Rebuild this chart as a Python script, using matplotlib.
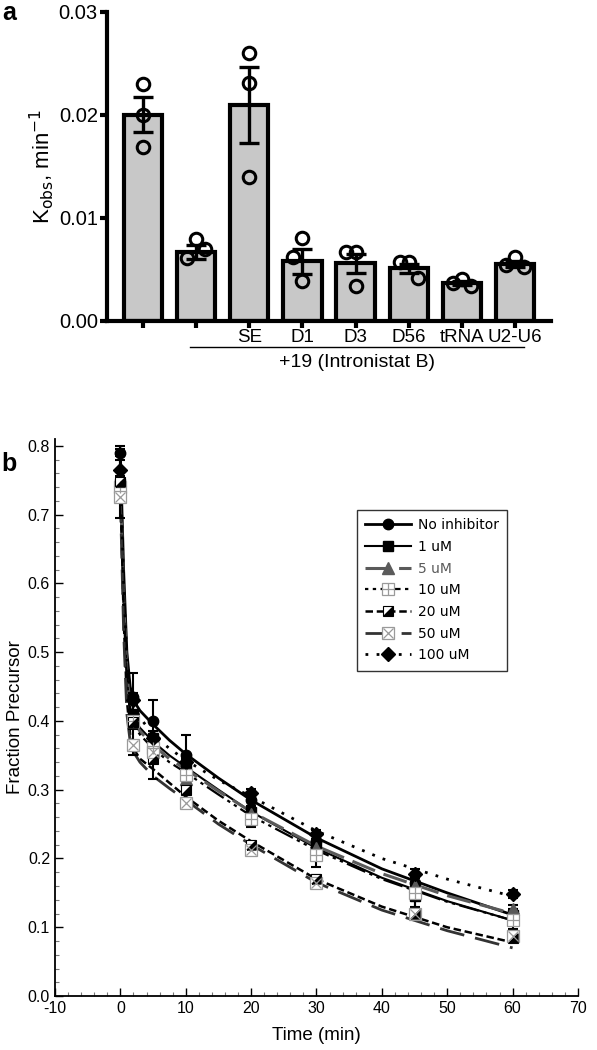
"""
Kobs bar chart (a) and precursor decay time course (b)
"""
import numpy as np
import matplotlib
matplotlib.use("Agg")
import matplotlib.pyplot as plt
from matplotlib.lines import Line2D
from matplotlib.legend_handler import HandlerTuple

plt.rcParams["font.family"] = ["Liberation Sans", "DejaVu Sans"]
plt.rcParams["axes.unicode_minus"] = False

# ---- panel a data ----
groups = ["", "", "SE", "D1", "D3", "D56", "tRNA", "U2-U6"]
kobs_mean = [0.0200, 0.0067, 0.0210, 0.0058, 0.0056, 0.0051, 0.0037, 0.0055]
kobs_sem = [0.0017, 0.0007, 0.0037, 0.0012, 0.0009, 0.0004, 0.0002, 0.0003]
kobs_reps = [
    [0.0230, 0.0200, 0.0169],
    [0.0080, 0.0061, 0.0070],
    [0.0260, 0.0231, 0.0140],
    [0.0081, 0.0062, 0.0039],
    [0.0067, 0.0067, 0.0034],
    [0.0057, 0.0057, 0.0042],
    [0.0041, 0.0037, 0.0034],
    [0.0062, 0.0054, 0.0052],
]
bracket_label = "+19 (Intronistat B)"

# ---- panel b data ----
series = ["No inhibitor", "1 uM", "5 uM", "10 uM", "20 uM", "50 uM", "100 uM"]
t_pts = [0, 2, 5, 10, 20, 30, 45, 60]
y_noinh = [0.790, 0.435, 0.400, 0.350, 0.285, 0.225, 0.165, 0.120]
y_1um = [0.745, 0.410, 0.375, 0.335, 0.268, 0.218, 0.145, 0.118]
y_5um = [0.750, 0.400, 0.368, 0.315, 0.265, 0.215, 0.160, 0.127]
y_10um = [0.740, 0.400, 0.360, 0.322, 0.258, 0.205, 0.150, 0.110]
y_20um = [0.748, 0.398, 0.345, 0.300, 0.220, 0.170, 0.120, 0.085]
y_50um = [0.725, 0.365, 0.355, 0.280, 0.213, 0.165, 0.120, 0.087]
y_100um = [0.765, 0.430, 0.375, 0.340, 0.295, 0.235, 0.178, 0.148]
e_noinh = [0.010, 0.006, 0.030, 0.030, 0.008, 0.008, 0.008, 0.006]
e_1um = [0.008, 0.060, 0.010, 0.010, 0.022, 0.008, 0.015, 0.008]
e_5um = [0.006, 0.006, 0.006, 0.006, 0.006, 0.006, 0.006, 0.006]
e_10um = [0.045, 0.006, 0.006, 0.006, 0.006, 0.018, 0.025, 0.012]
e_20um = [0.006, 0.010, 0.030, 0.012, 0.006, 0.006, 0.006, 0.006]
e_50um = [0.005, 0.005, 0.005, 0.005, 0.005, 0.005, 0.005, 0.005]
e_100um = [0.030, 0.006, 0.006, 0.006, 0.006, 0.006, 0.006, 0.006]

# fitted curves, values
t_fit = [0, 0.5, 1, 1.5, 2, 3, 5, 7.5, 10, 15, 20, 30, 40, 50, 60]
f_noinh = [0.790, 0.620, 0.500, 0.450, 0.430, 0.415, 0.395, 0.372, 0.352,
           0.317, 0.285, 0.230, 0.185, 0.150, 0.118]
f_1um = [0.745, 0.580, 0.470, 0.420, 0.405, 0.390, 0.370, 0.350, 0.333,
         0.300, 0.268, 0.215, 0.172, 0.138, 0.110]
f_5um = [0.750, 0.580, 0.470, 0.420, 0.400, 0.385, 0.365, 0.345, 0.330,
         0.298, 0.268, 0.218, 0.178, 0.146, 0.120]
f_10um = [0.740, 0.570, 0.460, 0.410, 0.395, 0.380, 0.360, 0.340, 0.325,
          0.293, 0.262, 0.212, 0.170, 0.137, 0.110]
f_20um = [0.750, 0.550, 0.430, 0.380, 0.360, 0.345, 0.330, 0.310, 0.290,
          0.255, 0.225, 0.170, 0.130, 0.100, 0.078]
f_50um = [0.725, 0.530, 0.410, 0.370, 0.355, 0.340, 0.320, 0.302, 0.285,
          0.250, 0.220, 0.165, 0.125, 0.095, 0.070]
f_100um = [0.765, 0.600, 0.490, 0.440, 0.425, 0.405, 0.380, 0.360, 0.343,
           0.314, 0.290, 0.240, 0.200, 0.170, 0.145]


def swarm_offsets(vals, dy=0.002, dx=0.17):
    """
    Small beeswarm so overlapping replicate dots sit side by side
    """
    placed = []
    offs = []
    for v in vals:
        for c in (0.0, -dx, dx, -2 * dx, 2 * dx):
            if all(abs(v - pv) >= dy or abs(c - pc) >= dx * 0.99 for pv, pc in placed):
                break
        placed.append((v, c))
        offs.append(c)
    return offs


def draw_bars(fig):
    ax = fig.add_axes([0.179, 0.6943, 0.744, 0.2943])
    x = np.arange(len(groups))
    ax.bar(x, kobs_mean, width=0.72, color="#c8c8c8", edgecolor="black",
           linewidth=3.0, zorder=2)
    ax.errorbar(x, kobs_mean, yerr=kobs_sem, fmt="none", ecolor="black",
                elinewidth=2.4, capsize=7, capthick=2.4, zorder=4)
    for i, reps in enumerate(kobs_reps):
        offs = swarm_offsets(reps)
        ax.plot(i + np.array(offs), reps, "o", ms=9, mfc="none", mec="black",
                mew=2.2, zorder=5)

    ax.set_xlim(-0.68, 7.68)
    ax.set_ylim(0, 0.03)
    ax.set_yticks([0, 0.01, 0.02, 0.03])
    ax.set_yticklabels(["0.00", "0.01", "0.02", "0.03"])
    ax.set_xticks(x)
    ax.set_xticklabels(groups)
    for s in ("top", "right"):
        ax.spines[s].set_visible(False)
    for s in ("left", "bottom"):
        ax.spines[s].set_linewidth(3.0)
    ax.tick_params(width=3.0, length=5, labelsize=13.5, direction="out", pad=1)
    ax.tick_params(axis="y", labelsize=14.5, pad=1.5)
    ax.set_ylabel(r"K$_{\rm obs}$, min$^{-1}$", fontsize=16, labelpad=2)

    # bracket for the inhibitor group
    trans = ax.get_xaxis_transform()
    ax.plot([0.89, 7.17], [-0.084, -0.084], color="black", lw=1.0,
            transform=trans, clip_on=False)
    ax.text(4.03, -0.135, bracket_label, transform=trans, ha="center",
            va="center", fontsize=14)
    fig.text(0.003, 0.988, "a", fontsize=18, fontweight="bold", va="center")


def draw_timecourse(fig):
    ax = fig.add_axes([0.0921, 0.0514, 0.876, 0.5305])
    black = "black"
    gray = "#5a5a5a"
    light = "#9a9a9a"

    specs = [
        (series[0], y_noinh, e_noinh, f_noinh, dict(color=black, lw=2.0, ls="-"),
         dict(marker="o", mfc=black, mec=black, ms=7.5)),
        (series[1], y_1um, e_1um, f_1um, dict(color=black, lw=1.5, ls="-"),
         dict(marker="s", mfc=black, mec=black, ms=7)),
        (series[2], y_5um, e_5um, f_5um, dict(color=gray, lw=2.2, ls=(0, (8, 3))),
         dict(marker="^", mfc=gray, mec=gray, ms=8)),
        (series[3], y_10um, e_10um, f_10um,
         dict(color=black, lw=1.6, ls=(0, (1.5, 2, 1.5, 2, 9, 2))),
         dict(marker="s", mfc="white", mec=light, ms=8, mew=0.9)),
        (series[4], y_20um, e_20um, f_20um, dict(color=black, lw=1.8, ls=(0, (3, 1.5))),
         dict(marker="s", mfc="white", mec=black, ms=7.5, mew=0.8)),
        (series[5], y_50um, e_50um, f_50um, dict(color="#333333", lw=2.0, ls=(0, (9, 4))),
         dict(marker="s", mfc="white", mec=light, ms=8.5, mew=0.9)),
        (series[6], y_100um, e_100um, f_100um, dict(color=black, lw=2.0, ls=(0, (1, 3))),
         dict(marker="D", mfc=black, mec=black, ms=7)),
    ]

    handles = []
    for name, yv, ev, fv, lstyle, mstyle in specs:
        ax.plot(t_fit, fv, zorder=2, **lstyle)
        ax.errorbar(t_pts, yv, yerr=ev, fmt="none", ecolor="black", elinewidth=1.5,
                    capsize=3.5, capthick=1.5, zorder=3)
        ax.plot(t_pts, yv, ls="none", zorder=4, **mstyle)
        h = [Line2D([], [], **lstyle, **mstyle)]
        if name == "10 uM":
            ax.plot(t_pts, yv, ls="none", marker="+", color=light, ms=8, mew=0.9, zorder=5)
            h.append(Line2D([], [], ls="none", marker="+", color=light, ms=8, mew=0.9))
        elif name == "50 uM":
            ax.plot(t_pts, yv, ls="none", marker="x", color=light, ms=6.5, mew=0.9, zorder=5)
            h.append(Line2D([], [], ls="none", marker="x", color=light, ms=6.5, mew=0.9))
        elif name == "20 uM":
            tri = [(-1, -1), (1, -1), (1, 1), (-1, -1)]
            ax.plot(t_pts, yv, ls="none", marker=tri, color=black, ms=6.5, zorder=5)
            h.append(Line2D([], [], ls="none", marker=tri, color=black, ms=6.5))
        handles.append(tuple(h))

    leg = ax.legend(handles, series, handler_map={tuple: HandlerTuple(ndivide=1, pad=0)},
                    loc="upper left", bbox_to_anchor=(0.564, 0.885), frameon=True,
                    fancybox=False, edgecolor="black", handlelength=3.3,
                    handletextpad=0.5, prop={"family": "DejaVu Sans", "size": 10},
                    labelspacing=0.55, borderpad=0.6)
    leg.get_frame().set_linewidth(1.0)
    leg.get_texts()[2].set_color(gray)

    ax.set_xlim(-10, 70)
    ax.set_ylim(0, 0.81)
    ax.set_xticks(np.arange(-10, 71, 10))
    ax.set_yticks(np.arange(0, 0.81, 0.1))
    ax.set_yticklabels([f"{v:.1f}" for v in np.arange(0, 0.81, 0.1)])
    ax.set_xticks(np.arange(-10, 71, 2), minor=True)
    ax.set_yticks(np.arange(0, 0.81, 0.02), minor=True)
    for s in ("top", "right"):
        ax.spines[s].set_visible(False)
    for s in ("left", "bottom"):
        ax.spines[s].set_linewidth(1.3)
    ax.tick_params(which="major", direction="in", length=6, width=1.0, labelsize=11.5)
    ax.tick_params(which="minor", direction="in", length=3, width=0.8, color="#777777")
    ax.set_xlabel("Time (min)", fontsize=13.5, labelpad=8)
    ax.set_ylabel("Fraction Precursor", fontsize=13.5, labelpad=3)
    fig.text(0.003, 0.558, "b", fontsize=18, fontweight="bold", va="center")


def main():
    fig = plt.figure(figsize=(5.97, 10.5), dpi=100)
    draw_bars(fig)
    draw_timecourse(fig)
    fig.savefig("out.png", dpi=100)


if __name__ == "__main__":
    main()
